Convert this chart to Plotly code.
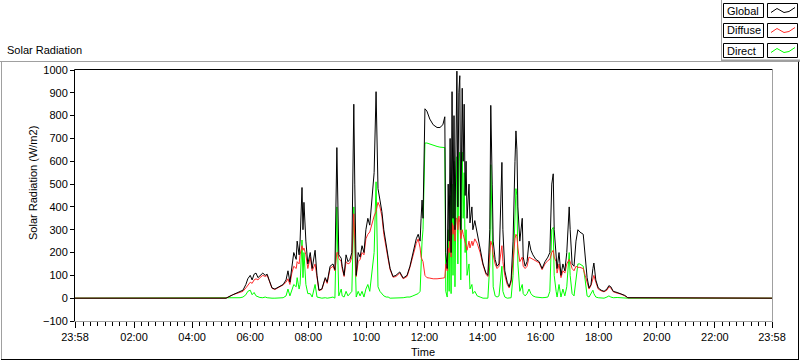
import plotly.graph_objects as go
import pandas as pd

# ---------------- data (minutes from midnight, W/m2) ----------------
minutes = [
    -2, 300, 310, 324, 339, 345, 351, 355, 360, 364,
    368, 372, 376, 380, 386, 391, 395, 399, 405, 411,
    419, 428, 434, 438, 442, 446, 450, 455, 457, 461,
    463, 467, 469, 471, 475, 479, 484, 488, 494, 498,
    502, 508, 515, 519, 525, 531, 535, 539, 541, 543,
    548, 550, 554, 558, 562, 566, 570, 574, 576, 579,
    583, 587, 591, 595, 599, 603, 607, 612, 616, 620,
    622, 624, 628, 632, 636, 641, 645, 649, 655, 661,
    669, 676, 684, 690, 696, 703, 707, 711, 713, 715,
    717, 721, 725, 731, 738, 746, 752, 758, 762, 764,
    767, 769, 771, 773, 775, 777, 779, 781, 783, 785,
    787, 789, 791, 793, 795, 798, 800, 802, 804, 806,
    808, 812, 814, 818, 820, 824, 829, 835, 841, 847,
    851, 855, 857, 860, 862, 866, 870, 874, 878, 880,
    882, 886, 891, 895, 899, 903, 907, 909, 911, 913,
    917, 922, 924, 928, 932, 936, 940, 944, 950, 957,
    963, 969, 975, 979, 983, 986, 988, 992, 994, 998,
    1002, 1006, 1010, 1014, 1019, 1021, 1025, 1029, 1033, 1037,
    1041, 1048, 1052, 1056, 1060, 1064, 1068, 1070, 1074, 1079,
    1085, 1091, 1097, 1101, 1105, 1110, 1118, 1126, 1134, 1140,
    1438,
]

global_rad = [
    0, 0, 0, 15, 30, 35, 60, 85, 100, 80,
    105, 110, 90, 100, 110, 100, 105, 80, 45, 40,
    50, 60, 80, 120, 70, 150, 200, 170, 250, 190,
    250, 485, 300, 420, 250, 150, 200, 130, 210, 100,
    35, 40, 90, 70, 140, 150, 125, 660, 400, 190,
    175, 140, 100, 190, 160, 170, 200, 850, 500, 100,
    200, 180, 230, 200, 300, 350, 320, 450, 550, 905,
    600, 480, 430, 380, 300, 220, 180, 130, 95, 100,
    115, 88, 100, 140, 200, 260, 280, 250, 350, 430,
    350, 830, 820, 785, 760, 748, 748, 760, 795, 200,
    130, 500, 250, 700, 200, 905, 350, 800, 300, 650,
    995, 400, 900, 975, 300, 920, 600, 850, 450, 600,
    350, 500, 330, 400, 300, 340, 280, 220, 150, 110,
    100, 300, 845, 500, 250, 170, 140, 150, 400, 595,
    300, 120, 70, 50, 80, 250, 600, 733, 650, 400,
    250, 350, 180, 140, 160, 250, 210, 190, 170, 160,
    130, 160, 180, 200, 500, 545, 300, 200, 130, 200,
    100, 150, 120, 200, 400, 300, 150, 140, 250, 300,
    290, 280, 200, 90, 45, 60, 130, 154, 80, 45,
    35, 30, 40, 55, 50, 30, 25, 20, 12, 2,
    0,
]

diffuse_rad = [
    0, 0, 0, 15, 28, 30, 45, 55, 70, 65,
    80, 85, 80, 90, 100, 95, 100, 78, 43, 38,
    48, 58, 70, 85, 60, 110, 140, 130, 160, 150,
    190, 230, 210, 220, 190, 130, 180, 120, 150, 90,
    33, 38, 85, 65, 130, 140, 120, 200, 200, 175,
    160, 130, 95, 160, 150, 155, 180, 370, 280, 95,
    160, 170, 200, 190, 260, 280, 290, 330, 360, 380,
    400, 420, 400, 360, 280, 210, 170, 125, 92, 95,
    110, 85, 95, 135, 190, 240, 260, 220, 180, 170,
    160, 100, 90, 88, 85, 85, 85, 88, 90, 150,
    120, 220, 200, 300, 180, 330, 280, 320, 250, 350,
    350, 300, 360, 330, 260, 300, 280, 260, 240, 230,
    210, 250, 220, 250, 230, 260, 240, 200, 145, 105,
    95, 200, 250, 230, 190, 150, 130, 140, 200, 230,
    160, 100, 60, 45, 70, 180, 260, 280, 270, 220,
    160, 180, 140, 130, 140, 180, 175, 170, 160, 155,
    125, 150, 165, 170, 200, 210, 180, 160, 110, 150,
    90, 120, 110, 150, 170, 160, 130, 120, 140, 135,
    135, 130, 100, 70, 40, 55, 90, 100, 70, 40,
    32, 28, 35, 50, 45, 28, 22, 18, 10, 2,
    0,
]

direct_rad = [
    0, 0, 0, 0, 2, 5, 15, 30, 35, 15,
    25, 10, 5, 3, 2, 5, 2, 0, 0, 0,
    0, 2, 10, 40, 10, 40, 60, 50, 90, 40,
    60, 255, 90, 200, 60, 20, 20, 5, 60, 5,
    2, 0, 2, 0, 2, 5, 0, 400, 180, 10,
    40, 10, 5, 30, 10, 20, 30, 400, 200, 5,
    30, 10, 30, 5, 40, 60, 30, 120, 200, 510,
    250, 50, 30, 20, 10, 5, 5, 0, 0, 0,
    2, 2, 5, 5, 10, 15, 20, 30, 170, 250,
    300, 680, 680, 675, 670, 665, 662, 662, 660, 30,
    5, 300, 30, 450, 20, 500, 100, 600, 50, 400,
    620, 150, 600, 640, 80, 640, 350, 550, 200, 300,
    100, 150, 40, 60, 20, 30, 10, 5, 0, 0,
    0, 150, 585, 300, 50, 10, 5, 10, 100, 140,
    30, 5, 0, 0, 2, 100, 400, 480, 450, 150,
    30, 60, 20, 10, 20, 40, 20, 10, 5, 3,
    2, 3, 5, 30, 300, 310, 100, 30, 5, 60,
    5, 40, 10, 50, 200, 100, 20, 10, 80, 150,
    150, 140, 80, 10, 5, 20, 35, 20, 5, 2,
    2, 0, 5, 10, 5, 2, 3, 2, 2, 0,
    0,
]

series_names = ["Global", "Diffuse", "Direct"]
series_colors = ["#000000", "#ff2a2a", "#00ff00"]
tick_labels = ["23:58", "02:00", "04:00", "06:00", "08:00", "10:00", "12:00",
               "14:00", "16:00", "18:00", "20:00", "22:00", "23:58"]
tick_minutes = [-2, 120, 240, 360, 480, 600, 720, 840, 960, 1080, 1200, 1320, 1438]
y_ticks = list(range(-100, 1001, 100))

# ---------------- build ----------------
base = pd.Timestamp("2024-01-02 00:00")
times = [base + pd.Timedelta(minutes=m) for m in minutes]
tickvals = [base + pd.Timedelta(minutes=m) for m in tick_minutes]

W, H = 800, 361
L, R, T, B = 75, 28, 70, 40
PW, PH = W - L - R, H - T - B


def px(x):
    return (x - L) / PW


def py(y):
    return (H - B - y) / PH


FONT = "Liberation Sans, Arial, sans-serif"

fig = go.Figure()
values = {"Global": global_rad, "Diffuse": diffuse_rad, "Direct": direct_rad}
for name, color in reversed(list(zip(series_names, series_colors))):
    fig.add_trace(go.Scatter(x=times, y=values[name], mode="lines", name=name,
                             line=dict(color=color, width=1), showlegend=False))

shapes = []
GRAY = "#a0a0a0"


def line(x0, y0, x1, y1, color, width=1):
    shapes.append(dict(type="line", xref="paper", yref="paper",
                       x0=px(x0), y0=py(y0), x1=px(x1), y1=py(y1),
                       line=dict(color=color, width=width)))


# outer frame
line(0, 61.5, 800, 61.5, GRAY)
line(1.5, 61.5, 1.5, 359.5, GRAY)
line(798.5, 61.5, 798.5, 359.5, "#000000")
line(1, 359.5, 799, 359.5, "#000000")
# legend panel
line(721.5, 0, 721.5, 61, GRAY)
line(721, 60.5, 800, 60.5, GRAY, 2)
# plot area border
line(74.5, 69.5, 772.5, 69.5, "#000000")
line(74.5, 69.5, 74.5, 321.5, "#000000")
line(772.5, 69.5, 772.5, 321.5, GRAY)
line(74.5, 321.5, 772.5, 321.5, GRAY)

annotations = []
for i, (name, color) in enumerate(zip(series_names, series_colors)):
    yt = 3.5 + 20 * i
    shapes.append(dict(type="rect", xref="paper", yref="paper",
                       x0=px(723.5), x1=px(763.5), y0=py(yt), y1=py(yt + 14),
                       line=dict(color="black", width=1), fillcolor="white"))
    shapes.append(dict(type="rect", xref="paper", yref="paper",
                       x0=px(767.5), x1=px(797.5), y0=py(yt), y1=py(yt + 14),
                       line=dict(color="black", width=1), fillcolor="white"))
    pts = [(771, yt + 9), (777, yt + 5), (784, yt + 9), (789, yt + 8), (795, yt + 4)]
    path = "M " + " L ".join(f"{px(a):.5f},{py(b):.5f}" for a, b in pts)
    shapes.append(dict(type="path", xref="paper", yref="paper", path=path,
                       line=dict(color=color, width=1)))
    annotations.append(dict(xref="paper", yref="paper", x=px(725), y=py(yt + 7),
                            xanchor="left", yanchor="middle", text=name, showarrow=False,
                            font=dict(family=FONT, size=11, color="black")))

annotations.append(dict(xref="paper", yref="paper", x=px(5), y=py(50),
                        xanchor="left", yanchor="middle", text="Solar Radiation",
                        showarrow=False, font=dict(family=FONT, size=11, color="black")))
annotations.append(dict(xref="paper", yref="paper", x=px(33), y=py(183),
                        xanchor="center", yanchor="middle", text="Solar Radiation (W/m2)",
                        textangle=-90, showarrow=False,
                        font=dict(family=FONT, size=11, color="black")))
annotations.append(dict(xref="paper", yref="paper", x=px(423), y=py(352),
                        xanchor="center", yanchor="middle", text="Time",
                        showarrow=False, font=dict(family=FONT, size=11, color="black")))

fig.update_layout(
    width=W, height=H,
    margin=dict(l=L, r=R, t=T, b=B, pad=0),
    paper_bgcolor="white", plot_bgcolor="white",
    font=dict(family=FONT, size=11, color="black"),
    shapes=shapes, annotations=annotations,
    showlegend=False,
)
fig.update_xaxes(
    type="date",
    range=[tickvals[0], tickvals[-1]],
    tickmode="array", tickvals=tickvals, ticktext=tick_labels,
    ticks="outside", ticklen=6, tickwidth=1, tickcolor="black",
    minor=dict(ticks="outside", ticklen=4, tickwidth=1, tickcolor="black",
               dtick=15 * 60 * 1000, tick0=base, showgrid=False),
    showgrid=False, zeroline=False, showline=False,
    tickfont=dict(family=FONT, size=11, color="black"),
)
fig.update_yaxes(
    range=[-100, 1000],
    tickmode="array", tickvals=y_ticks,
    ticks="outside", ticklen=4, tickwidth=1, tickcolor="black",
    showgrid=False, zeroline=False, showline=False,
    tickfont=dict(family=FONT, size=11, color="black"),
)

fig.write_html(
    "out.html",
    config={"displayModeBar": False},
    post_script="document.body.style.margin='0';document.body.style.overflow='hidden';",
)
